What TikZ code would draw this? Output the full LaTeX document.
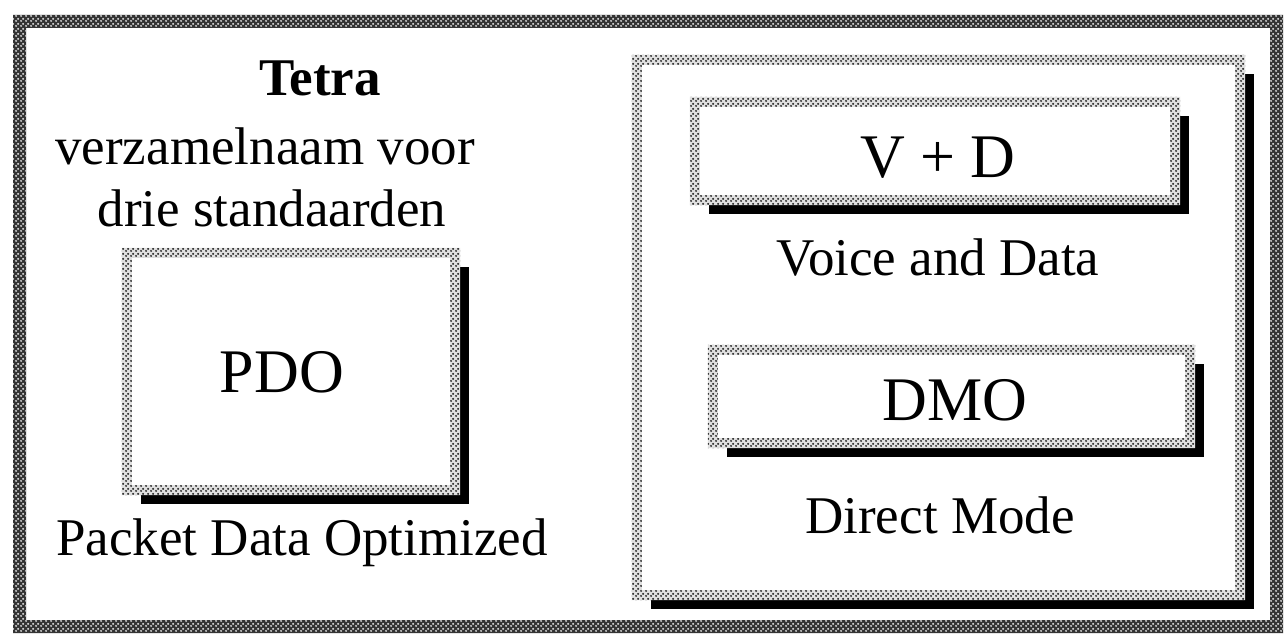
\documentclass[tikz,border=0pt]{standalone}
\usepackage{fontspec}
\setmainfont{Liberation Serif}
\usetikzlibrary{shadows,patterns.meta}
% halftone dots used for the frames
\tikzdeclarepattern{
  name=ditherdots,
  type=uncolored,
  bounding box={(0pt,0pt) and (5pt,5pt)},
  tile size={(5pt,5pt)},
  code={
    \fill (1.25pt,1.25pt) circle (1.25pt);
    \fill (3.75pt,3.75pt) circle (1.25pt);
  }
}
\tikzset{
  panel/.style={fill=white, inner sep=0pt,
    drop shadow={shadow xshift=14pt, shadow yshift=-14pt, fill=black, opacity=1}},
  label/.style={font=\fontsize{53}{60}\selectfont, inner sep=0pt},
  boxlabel/.style={font=\fontsize{62}{70}\selectfont, inner sep=0pt},
}
% dotted ring of half width #2 around the border of node #1
\newcommand\ditherring[2]{%
  \fill[black!12, even odd rule]
    ([shift={(-#2,#2)}]#1.north west) rectangle ([shift={(#2,-#2)}]#1.south east)
    ([shift={(#2,-#2)}]#1.north west) rectangle ([shift={(-#2,#2)}]#1.south east);
  \fill[pattern=ditherdots, pattern color=black!85, even odd rule]
    ([shift={(-#2,#2)}]#1.north west) rectangle ([shift={(#2,-#2)}]#1.south east)
    ([shift={(#2,-#2)}]#1.north west) rectangle ([shift={(-#2,#2)}]#1.south east);}
\begin{document}
\begin{tikzpicture}[x=1pt, y=-1pt]
  \useasboundingbox (0,0) rectangle (1285,642);
  \fill[white] (0,0) rectangle (1285,642);
  % outer frame: dark band with light dots
  \fill[black!80, even odd rule] (13,15) rectangle (1283,633) (26,28) rectangle (1270,620);
  \fill[pattern=ditherdots, pattern color=white!85!black, even odd rule]
    (13,15) rectangle (1283,633) (26,28) rectangle (1270,620);
  % left column
  \node[label, font=\fontsize{53}{60}\selectfont\bfseries] (tetra) at (320,78) {Tetra};
  \node[label] (verz) at (265,146) {verzamelnaam voor};
  \node[label] (drie) at (272,208) {drie standaarden};
  \node[panel, minimum width=328pt, minimum height=237pt] (pdo) at (291,371.5) {};
  \ditherring{pdo}{5pt}
  \node[boxlabel] (pdotext) at (282,372) {PDO};
  \node[label] (pdoname) at (302,543) {Packet Data Optimized};
  % right panel
  \node[panel, minimum width=603pt, minimum height=535pt] (right) at (938.5,327.5) {};
  \ditherring{right}{5pt}
  \node[panel, minimum width=480pt, minimum height=98pt] (vd) at (935,151) {};
  \ditherring{vd}{5pt}
  \node[boxlabel] (vdtext) at (938,158) {V + D};
  \node[label] (vdname) at (938,258) {Voice and Data};
  \node[panel, minimum width=477pt, minimum height=93pt] (dmo) at (951.5,396.5) {};
  \ditherring{dmo}{5pt}
  \node[boxlabel] (dmotext) at (955,400) {DMO};
  \node[label] (dmoname) at (940,515) {Direct Mode};
\end{tikzpicture}
\end{document}
